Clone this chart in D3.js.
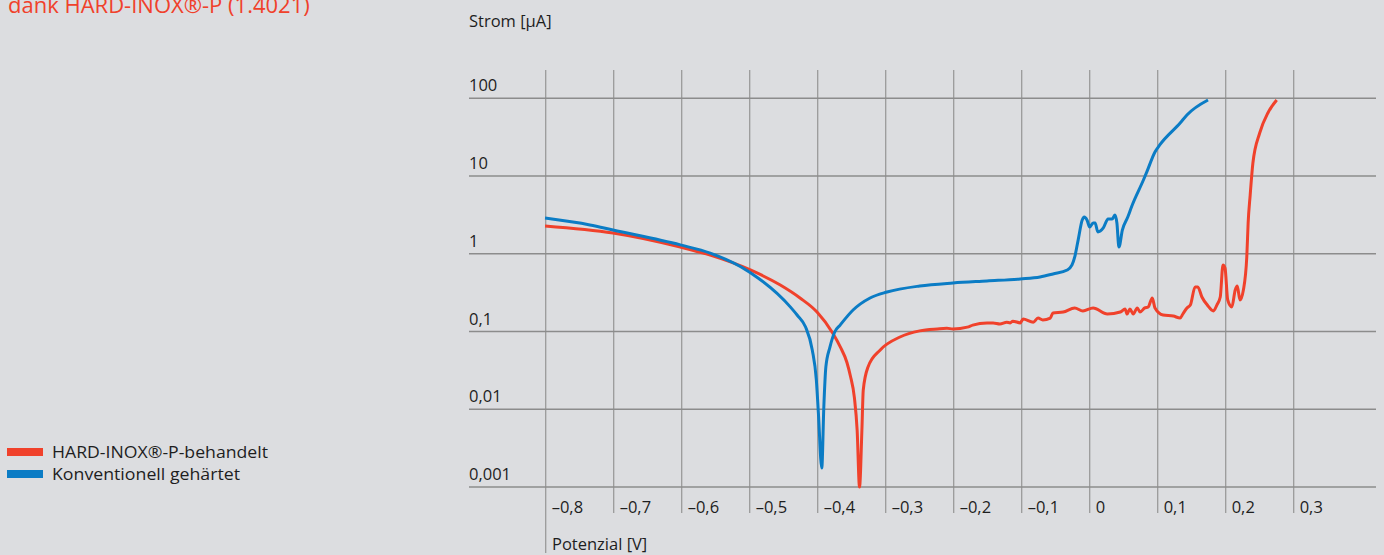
<!DOCTYPE html>
<html><head><meta charset="utf-8">
<script src="https://cdn.jsdelivr.net/npm/d3@7"></script>
<style>
html,body{margin:0;padding:0;background:#dcdde0;}
svg{display:block;}
text{font-family:"Open Sans","Noto Sans",sans-serif;fill:#1e1e1e;}
</style></head><body>
<svg id="c" width="1384" height="555"></svg>
<script>
// Potential [V] ticks and current [µA] ticks
const xTicks = [-0.8,-0.7,-0.6,-0.5,-0.4,-0.3,-0.2,-0.1,0,0.1,0.2,0.3];
const xTickLabels = ["–0,8","–0,7","–0,6","–0,5","–0,4","–0,3","–0,2","–0,1","0","0,1","0,2","0,3"];
const yTicks = [0.001,0.01,0.1,1,10,100];
const yTickLabels = ["0,001","0,01","0,1","1","10","100"];
const seriesNames = ["HARD-INOX®-P-behandelt","Konventionell gehärtet"];
const seriesColors = ["#f0412b","#0b7cc5"];
const titleText = "dank HARD-INOX®-P (1.4021)";

// Blue: Konventionell gehärtet  [potential V, current µA]
const blueV = [-0.801,-0.735,-0.701,-0.602,-0.558,-0.500,-0.440,-0.430,-0.418,-0.408,-0.402,-0.399,-0.394,-0.391,-0.388,-0.382,-0.375,-0.367,-0.348,-0.323,-0.298,-0.250,-0.201,-0.151,-0.102,-0.073,-0.054,-0.033,-0.026,-0.022,-0.017,-0.011,-0.008,-0.004,0.000,0.005,0.008,0.012,0.020,0.027,0.033,0.037,0.040,0.043,0.048,0.056,0.062,0.079,0.084,0.096,0.103,0.133,0.143,0.174];
const blueI = [2.88,2.35,2.02,1.30,1.02,0.58,0.206,0.162,0.115,0.058,0.0238,0.0090,0.00175,0.0107,0.035,0.063,0.0986,0.121,0.189,0.270,0.322,0.385,0.421,0.447,0.474,0.502,0.550,0.618,0.718,0.91,1.50,2.72,2.97,2.72,2.21,2.49,2.49,1.91,2.15,2.80,2.80,3.15,2.49,1.22,2.02,2.97,4.12,8.9,11.3,20.4,25.1,48.1,61,95];

// Red: HARD-INOX-P-behandelt
const redV = [-0.801,-0.701,-0.602,-0.558,-0.499,-0.455,-0.426,-0.401,-0.378,-0.367,-0.357,-0.352,-0.346,-0.342,-0.3385,-0.335,-0.333,-0.326,-0.308,-0.279,-0.250,-0.224,-0.210,-0.201,-0.180,-0.172,-0.151,-0.142,-0.132,-0.122,-0.117,-0.113,-0.102,-0.098,-0.083,-0.076,-0.069,-0.058,-0.054,-0.039,-0.022,-0.010,0.005,0.026,0.045,0.052,0.055,0.059,0.064,0.070,0.074,0.081,0.086,0.092,0.096,0.108,0.123,0.133,0.137,0.143,0.148,0.155,0.159,0.165,0.173,0.182,0.187,0.192,0.196,0.199,0.203,0.209,0.214,0.217,0.221,0.226,0.231,0.233,0.236,0.240,0.250,0.262,0.275];
const redI = [2.28,1.85,1.22,0.96,0.62,0.396,0.270,0.178,0.0957,0.064,0.040,0.027,0.014,0.0054,0.001,0.0054,0.0177,0.035,0.058,0.085,0.102,0.108,0.110,0.108,0.114,0.121,0.129,0.129,0.125,0.132,0.129,0.136,0.129,0.145,0.132,0.149,0.141,0.149,0.173,0.178,0.201,0.184,0.201,0.168,0.178,0.195,0.168,0.195,0.168,0.201,0.178,0.201,0.207,0.270,0.201,0.163,0.158,0.149,0.168,0.201,0.219,0.374,0.374,0.278,0.219,0.184,0.219,0.278,0.718,0.656,0.254,0.207,0.342,0.385,0.254,0.342,0.91,2.49,5.7,14.7,35.8,64.7,95];

const svg = d3.select("#c");
const x = d3.scaleLinear().domain([-0.8,0.3]).range([545.7,1293.7]);
const y = d3.scaleLog().domain([0.001,100]).range([487,98.3]);
const gridColor = "#9a9a9a";

// title (partially cut at top, as in the original)
svg.append("text").attr("x",8).attr("y",13).attr("font-size",22).style("fill","#f0412b").text(titleText);

// vertical grid lines
svg.append("g").selectAll("line").data(xTicks).join("line")
  .attr("x1",d=>x(d)).attr("x2",d=>x(d))
  .attr("y1",70).attr("y2",(d,i)=>i===0?553:513)
  .attr("stroke",gridColor).attr("stroke-width",1.3);

// horizontal grid lines
svg.append("g").selectAll("line").data(yTicks).join("line")
  .attr("x1",469).attr("x2",1376)
  .attr("y1",d=>y(d)).attr("y2",d=>y(d))
  .attr("stroke","#8c8c8c").attr("stroke-width",1.6);

// y tick labels
svg.append("g").selectAll("text").data(yTicks).join("text")
  .attr("x",469).attr("y",d=>y(d)-7).attr("font-size",16.5)
  .text((d,i)=>yTickLabels[i]);

// x tick labels
svg.append("g").selectAll("text").data(xTicks).join("text")
  .attr("x",d=>x(d)+6).attr("y",512.5).attr("font-size",16.5)
  .text((d,i)=>xTickLabels[i]);

// axis titles
svg.append("text").attr("x",469).attr("y",27).attr("font-size",16.5).text("Strom [µA]");
svg.append("text").attr("x",552).attr("y",550).attr("font-size",16.5).text("Potenzial [V]");

// curves
const line = d3.line().x(d=>x(d[0])).y(d=>y(d[1])).curve(d3.curveMonotoneX);
const redData = redV.map((v,i)=>[v,redI[i]]);
const blueData = blueV.map((v,i)=>[v,blueI[i]]);
svg.append("path").datum(redData).attr("d",line).attr("fill","none")
  .attr("stroke",seriesColors[0]).attr("stroke-width",3).attr("stroke-linejoin","round");
svg.append("path").datum(blueData).attr("d",line).attr("fill","none")
  .attr("stroke",seriesColors[1]).attr("stroke-width",3).attr("stroke-linejoin","round");

// legend
const lg = svg.append("g");
seriesNames.forEach((n,i)=>{
  lg.append("rect").attr("x",7).attr("y",448+i*22).attr("width",36).attr("height",8).attr("fill",seriesColors[i]);
  lg.append("text").attr("x",52).attr("y",457.5+i*22).attr("font-size",16.5)
    .attr("textLength",i===0?216:188).attr("lengthAdjust","spacingAndGlyphs").text(n);
});
</script>
</body></html>
